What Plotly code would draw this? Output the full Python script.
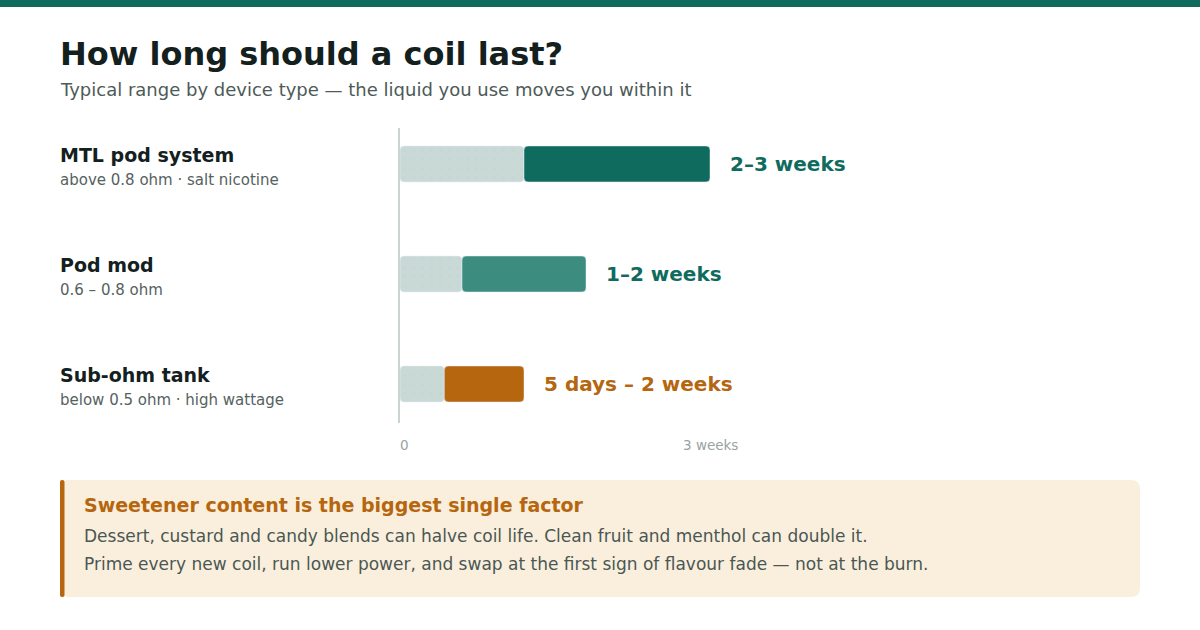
import plotly.graph_objects as go

# data (axis in days, 0 .. 3 weeks = 21)
devices = ["MTL pod system", "Pod mod", "Sub-ohm tank"]
details = ["above 0.8 ohm · salt nicotine", "0.6 – 0.8 ohm", "below 0.5 ohm · high wattage"]
range_start = [8.4, 4.2, 3.0]
range_end = [21.0, 12.6, 8.4]
range_labels = ["2–3 weeks", "1–2 weeks", "5 days – 2 weeks"]
tick_vals = [0, 21]
tick_text = ["0", "3 weeks"]

bar_colors = ["#0f6b5e", "#3d8c80", "#b5660f"]
label_colors = ["#0f6b5e", "#0f6b5e", "#b5660f"]
FONT = "DejaVu Sans"
W, H = 1200, 630


def px(x):
    return x / W


def py(y):
    return 1 - y / H


fig = go.Figure()

# light part: 0 -> start of typical range
fig.add_trace(go.Bar(
    y=devices, x=range_start, base=[0] * len(devices), orientation="h",
    width=0.327,
    marker=dict(color="#c9d9d6", cornerradius=4,
                pattern=dict(shape=".", fgcolor="#c0d2ce", size=9, solidity=0.06)),
    hoverinfo="skip", showlegend=False,
))
# coloured part: the typical range itself
fig.add_trace(go.Bar(
    y=devices, x=[e - s for s, e in zip(range_start, range_end)], base=range_start,
    orientation="h", width=0.327,
    marker=dict(color=bar_colors, cornerradius=4),
    hoverinfo="skip", showlegend=False,
))

annotations = []
for dev, det, end, lab, col in zip(devices, details, range_end, range_labels, label_colors):
    annotations.append(dict(x=end, y=dev, xref="x", yref="y", text=lab, showarrow=False,
                            xanchor="left", yanchor="middle", xshift=20,
                            font=dict(family=FONT, size=20, color=col, weight=700)))
    annotations.append(dict(x=px(60), y=dev, xref="paper", yref="y", text=dev, showarrow=False,
                            xanchor="left", yanchor="middle", yshift=9,
                            font=dict(family=FONT, size=19, color="#13201e", weight=700)))
    annotations.append(dict(x=px(60), y=dev, xref="paper", yref="y", text=det, showarrow=False,
                            xanchor="left", yanchor="middle", yshift=-16,
                            font=dict(family=FONT, size=15, color="#55625f")))

for v, t in zip(tick_vals, tick_text):
    annotations.append(dict(x=v, y=py(445), xref="x", yref="paper", text=t, showarrow=False,
                            xanchor="left" if v == 0 else "center", yanchor="middle",
                            font=dict(family=FONT, size=13.5, color="#9aa3a1")))

# title block
annotations.append(dict(x=px(60), y=py(54), xref="paper", yref="paper",
                        text="How long should a coil last?", showarrow=False,
                        xanchor="left", yanchor="middle",
                        font=dict(family=FONT, size=32, color="#13201e", weight=700)))
annotations.append(dict(x=px(60), y=py(90), xref="paper", yref="paper",
                        text="Typical range by device type — the liquid you use moves you within it",
                        showarrow=False, xanchor="left", yanchor="middle",
                        font=dict(family=FONT, size=18, color="#4d5a57")))

# callout text
annotations.append(dict(x=px(84), y=py(505), xref="paper", yref="paper",
                        text="Sweetener content is the biggest single factor", showarrow=False,
                        xanchor="left", yanchor="middle",
                        font=dict(family=FONT, size=19, color="#b5660f", weight=700)))
callout_lines = [
    "Dessert, custard and candy blends can halve coil life. Clean fruit and menthol can double it.",
    "Prime every new coil, run lower power, and swap at the first sign of flavour fade — not at the burn.",
]
for i, line in enumerate(callout_lines):
    annotations.append(dict(x=px(84), y=py(536 + 28 * i), xref="paper", yref="paper",
                            text=line, showarrow=False, xanchor="left", yanchor="middle",
                            font=dict(family=FONT, size=17, color="#4a5754")))

# no inner padding, so text starts right at its x position
for a in annotations:
    a["borderpad"] = 0
    a["borderwidth"] = 0


def rounded_rect(x0, y0, x1, y1, r):
    return (f"M {px(x0 + r)} {py(y0)} L {px(x1 - r)} {py(y0)} "
            f"Q {px(x1)} {py(y0)} {px(x1)} {py(y0 + r)} L {px(x1)} {py(y1 - r)} "
            f"Q {px(x1)} {py(y1)} {px(x1 - r)} {py(y1)} L {px(x0 + r)} {py(y1)} "
            f"Q {px(x0)} {py(y1)} {px(x0)} {py(y1 - r)} L {px(x0)} {py(y0 + r)} "
            f"Q {px(x0)} {py(y0)} {px(x0 + r)} {py(y0)} Z")


shapes = [
    dict(type="rect", xref="paper", yref="paper", x0=0, x1=1, y0=py(7), y1=1,
         fillcolor="#0f6b5e", line_width=0, layer="below"),
    dict(type="path", xref="paper", yref="paper", path=rounded_rect(60, 480, 1140, 597, 9),
         fillcolor="#faefdc", line_width=0, layer="below"),
    dict(type="path", xref="paper", yref="paper", path=rounded_rect(60, 480, 64.5, 597, 2),
         fillcolor="#b5660f", line_width=0, layer="below"),
]

fig.update_layout(
    width=W, height=H,
    margin=dict(l=0, r=0, t=0, b=0),
    paper_bgcolor="white", plot_bgcolor="white",
    barmode="overlay",
    annotations=annotations,
    shapes=shapes,
    xaxis=dict(domain=[px(400), px(710)], range=[0, 21], showgrid=False, zeroline=False,
               showticklabels=False, fixedrange=True),
    yaxis=dict(domain=[py(423), py(128)], range=[-0.3545, 2.327], type="category",
               categoryorder="array", categoryarray=devices[::-1],
               showgrid=False, zeroline=False, showticklabels=False,
               showline=True, linecolor="#c8d5d2", linewidth=1.5, fixedrange=True),
    font=dict(family=FONT),
)

# drop the default page margin so the chart sits at the window's top-left corner
fig.write_html("out.html", config={"displayModeBar": False},
               post_script="document.body.style.margin='0px';")
